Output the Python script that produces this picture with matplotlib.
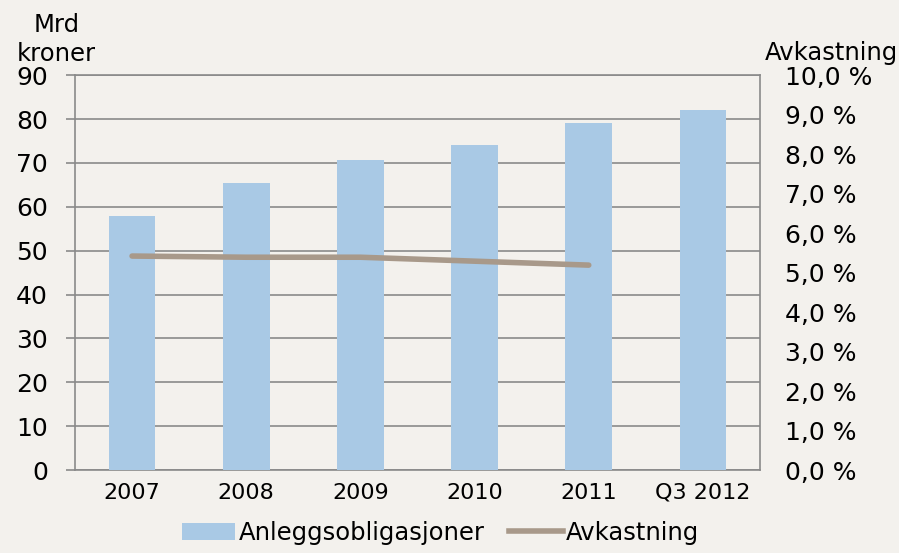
import matplotlib.pyplot as plt
from matplotlib.lines import Line2D
from matplotlib.patches import Patch

# Values
years = ['2007', '2008', '2009', '2010', '2011', 'Q3 2012']
bonds = [57.9, 65.4, 70.6, 74.0, 79.0, 82.0]          # Mrd kroner
yield_years = ['2007', '2008', '2009', '2010', '2011']
yield_pct = [5.42, 5.39, 5.39, 5.29, 5.19]              # Avkastning, %

bg = '#f3f1ed'
bar_color = '#a9c9e5'
line_color = '#a8998a'
grid_color = '#8a8a8a'

plt.rcParams['font.family'] = ['DejaVu Sans']

fig = plt.figure(figsize=(8.99, 5.53), dpi=100, facecolor=bg)
ax = fig.add_axes([0.0834, 0.150, 0.762, 0.714])
ax.set_facecolor(bg)

x = list(range(len(years)))
ax.bar(x, bonds, width=0.41, color=bar_color, zorder=3)
ax.set_ylim(0, 90)
ax.set_xlim(-0.5, len(years) - 0.5)
ax.set_yticks(range(0, 91, 10))
ax.yaxis.grid(True, color=grid_color, linewidth=1.2, zorder=0)
ax.set_axisbelow(True)
ax.set_xticks(x)
ax.set_xticklabels(years, fontsize=16)
ax.tick_params(axis='x', length=0, pad=9)
ax.tick_params(axis='y', labelsize=18, length=6.5, color=grid_color, width=1.2, pad=13)
for s in ax.spines.values():
    s.set_color(grid_color)
    s.set_linewidth(1.2)

ax2 = ax.twinx()
ax2.plot([years.index(y) for y in yield_years], yield_pct, color=line_color,
         linewidth=4, solid_capstyle='round', zorder=4)
ax2.set_ylim(0, 10)
ax2.set_yticks(range(0, 11))
ax2.set_yticklabels([f'{v:.1f} %'.replace('.', ',') for v in range(0, 11)])
ax2.tick_params(axis='y', labelsize=18, length=0, pad=18)
for s in ax2.spines.values():
    s.set_visible(False)

# axis titles sitting above the plot area
fig.text(0.063, 1 - 32 / 553, 'Mrd', fontsize=17.5, ha='center', va='baseline')
fig.text(0.063, 1 - 61 / 553, 'kroner', fontsize=17.5, ha='center', va='baseline')
fig.text(0.999, 1 - 60 / 553, 'Avkastning', fontsize=17.5, ha='right', va='baseline')

handles = [Patch(facecolor=bar_color, edgecolor='none'),
           Line2D([0], [0], color=line_color, linewidth=4)]
fig.legend(handles, ['Anleggsobligasjoner', 'Avkastning'], loc='lower center',
           bbox_to_anchor=(0.49, -0.025), ncol=2, frameon=False, fontsize=17.5,
           handlelength=2.2, handletextpad=0.15, columnspacing=1.0)

fig.savefig('out.png', dpi=100, facecolor=bg)
